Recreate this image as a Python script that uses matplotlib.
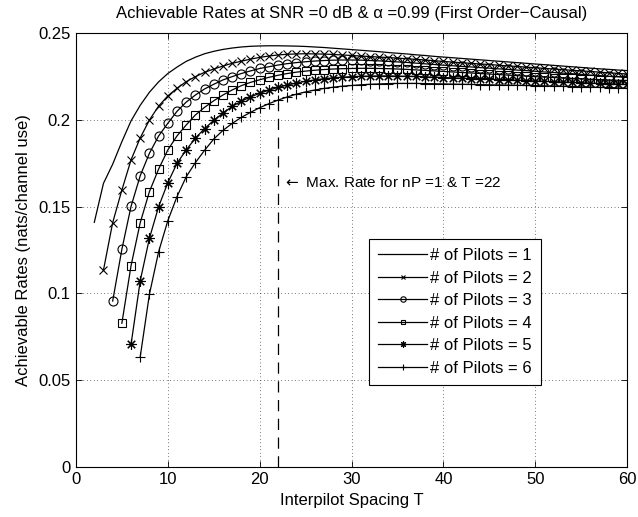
import matplotlib
matplotlib.use("Agg")
import matplotlib.pyplot as plt
import numpy as np

plt.rcParams['font.family'] = ['Liberation Sans', 'DejaVu Sans']
plt.rcParams['font.size'] = 12

# Interpilot spacing T for each curve starts at nP+1 and goes to 60
T1 = list(range(2, 61))
R1 = [0.1410, 0.1635, 0.1745, 0.1875, 0.1995, 0.2085, 0.2160, 0.2220, 0.2268, 0.2305,
      0.2338, 0.2362, 0.2382, 0.2396, 0.2407, 0.2415, 0.2421, 0.2425, 0.2427, 0.2428,
      0.2428, 0.2427, 0.2426, 0.2424, 0.2421, 0.2418, 0.2414, 0.2410, 0.2406, 0.2402,
      0.2398, 0.2394, 0.2389, 0.2385, 0.2381, 0.2376, 0.2372, 0.2367, 0.2363, 0.2359,
      0.2355, 0.2351, 0.2347, 0.2343, 0.2339, 0.2335, 0.2331, 0.2327, 0.2323, 0.2319,
      0.2315, 0.2311, 0.2307, 0.2303, 0.2299, 0.2295, 0.2292, 0.2288, 0.2285]

T2 = list(range(3, 61))
R2 = [0.1135, 0.1408, 0.1596, 0.1770, 0.1897, 0.2000, 0.2080, 0.2139, 0.2183, 0.2221,
      0.2250, 0.2275, 0.2294, 0.2311, 0.2327, 0.2339, 0.2351, 0.2361, 0.2369, 0.2375,
      0.2379, 0.2381, 0.2382, 0.2381, 0.2380, 0.2378, 0.2375, 0.2372, 0.2369, 0.2366,
      0.2363, 0.2360, 0.2357, 0.2353, 0.2350, 0.2346, 0.2342, 0.2338, 0.2334, 0.2330,
      0.2327, 0.2323, 0.2320, 0.2316, 0.2312, 0.2309, 0.2305, 0.2301, 0.2298, 0.2294,
      0.2290, 0.2287, 0.2283, 0.2280, 0.2276, 0.2272, 0.2269, 0.2265]

T3 = list(range(4, 61))
R3 = [0.0956, 0.1254, 0.1502, 0.1679, 0.1808, 0.1908, 0.1981, 0.2050, 0.2103, 0.2144,
      0.2179, 0.2206, 0.2231, 0.2250, 0.2268, 0.2283, 0.2297, 0.2307, 0.2317, 0.2325,
      0.2331, 0.2336, 0.2340, 0.2343, 0.2345, 0.2346, 0.2346, 0.2345, 0.2343, 0.2341,
      0.2338, 0.2335, 0.2332, 0.2328, 0.2324, 0.2320, 0.2316, 0.2313, 0.2309, 0.2306,
      0.2302, 0.2299, 0.2295, 0.2292, 0.2288, 0.2285, 0.2281, 0.2277, 0.2274, 0.2270,
      0.2267, 0.2263, 0.2259, 0.2256, 0.2252, 0.2249, 0.2245]

T4 = list(range(5, 61))
R4 = [0.0828, 0.1160, 0.1408, 0.1587, 0.1717, 0.1827, 0.1908, 0.1971, 0.2029, 0.2073,
      0.2111, 0.2144, 0.2173, 0.2198, 0.2217, 0.2232, 0.2246, 0.2258, 0.2268, 0.2276,
      0.2282, 0.2287, 0.2291, 0.2294, 0.2296, 0.2297, 0.2298, 0.2298, 0.2297, 0.2296,
      0.2294, 0.2292, 0.2289, 0.2286, 0.2283, 0.2280, 0.2277, 0.2274, 0.2271, 0.2268,
      0.2265, 0.2262, 0.2259, 0.2256, 0.2253, 0.2250, 0.2248, 0.2245, 0.2242, 0.2240,
      0.2237, 0.2235, 0.2233, 0.2231, 0.2229, 0.2228]

T5 = list(range(6, 61))
R5 = [0.0706, 0.1073, 0.1318, 0.1500, 0.1638, 0.1750, 0.1827, 0.1895, 0.1950, 0.1998,
      0.2040, 0.2078, 0.2108, 0.2133, 0.2154, 0.2172, 0.2188, 0.2202, 0.2213, 0.2223,
      0.2231, 0.2238, 0.2243, 0.2247, 0.2250, 0.2252, 0.2253, 0.2254, 0.2254, 0.2253,
      0.2252, 0.2251, 0.2249, 0.2247, 0.2245, 0.2243, 0.2241, 0.2239, 0.2237, 0.2235,
      0.2233, 0.2231, 0.2229, 0.2227, 0.2225, 0.2223, 0.2221, 0.2219, 0.2217, 0.2215,
      0.2213, 0.2211, 0.2209, 0.2207, 0.2205]

T6 = list(range(7, 61))
R6 = [0.0635, 0.0995, 0.1240, 0.1419, 0.1558, 0.1672, 0.1754, 0.1825, 0.1890, 0.1940,
      0.1980, 0.2015, 0.2044, 0.2071, 0.2094, 0.2115, 0.2133, 0.2149, 0.2162, 0.2173,
      0.2182, 0.2189, 0.2195, 0.2199, 0.2203, 0.2206, 0.2208, 0.2210, 0.2211, 0.2211,
      0.2211, 0.2210, 0.2209, 0.2208, 0.2207, 0.2206, 0.2205, 0.2204, 0.2203, 0.2202,
      0.2201, 0.2200, 0.2199, 0.2198, 0.2197, 0.2196, 0.2194, 0.2193, 0.2191, 0.2190,
      0.2188, 0.2187, 0.2185, 0.2183]

labels = ['# of Pilots = 1', '# of Pilots = 2', '# of Pilots = 3',
          '# of Pilots = 4', '# of Pilots = 5', '# of Pilots = 6']

x_ticks = [0, 10, 20, 30, 40, 50, 60]
y_ticks = [0, 0.05, 0.1, 0.15, 0.2, 0.25]
y_ticklabels = ['0', '0.05', '0.1', '0.15', '0.2', '0.25']

max_T = 22
dash_top = 0.21

fig = plt.figure(figsize=(6.38, 5.17), dpi=100)
ax = fig.add_axes([0.119, 0.097, 0.864, 0.8386])

asterisk = (8, 2, 0)
series = [
    (T1, R1, dict(marker=None)),
    (T2, R2, dict(marker='x', markersize=5.5)),
    (T3, R3, dict(marker='o', markersize=6.5, markerfacecolor='none')),
    (T4, R4, dict(marker='s', markersize=5.5, markerfacecolor='none')),
    (T5, R5, dict(marker=asterisk, markersize=7.5)),
    (T6, R6, dict(marker='+', markersize=7.5)),
]
for (t, r, kw), lab in zip(series, labels):
    ax.plot(t, r, color='black', linewidth=0.9, markeredgewidth=0.8, label=lab, **kw)

ax.plot([max_T, max_T], [0, dash_top], color='black', linewidth=0.9,
        linestyle=(0, (9, 6)))
ax.text(max_T + 0.5, 0.1637, r'$\leftarrow$ Max. Rate for nP =1 & T =22', fontsize=11,
        va='center', ha='left')

ax.set_xlim(0, 60)
ax.set_ylim(0, 0.25)
ax.set_xticks(x_ticks)
ax.set_yticks(y_ticks)
ax.set_yticklabels(y_ticklabels)
ax.grid(True, color='black', linestyle=(0, (1, 4)), linewidth=0.5)
ax.tick_params(direction='in', top=True, right=True, length=4, width=0.6,
               labelsize=12, pad=4)
for s in ax.spines.values():
    s.set_linewidth(0.8)

ax.set_title('Achievable Rates at SNR =0 dB & \u03b1 =0.99 (First Order\u2212Causal)',
             fontsize=12, pad=11)
ax.set_xlabel('Interpilot Spacing T', fontsize=12, labelpad=4)
ax.set_ylabel('Achievable Rates (nats/channel use)', fontsize=12, labelpad=5)

leg = ax.legend(loc='upper left', bbox_to_anchor=(0.532, 0.5255), fontsize=12,
                markerscale=0.6, handlelength=2.9, handletextpad=0.2,
                labelspacing=0.45, borderpad=0.55, borderaxespad=0,
                fancybox=False, framealpha=1, edgecolor='black')
leg.get_frame().set_linewidth(0.8)

fig.savefig('out.png', dpi=100)
